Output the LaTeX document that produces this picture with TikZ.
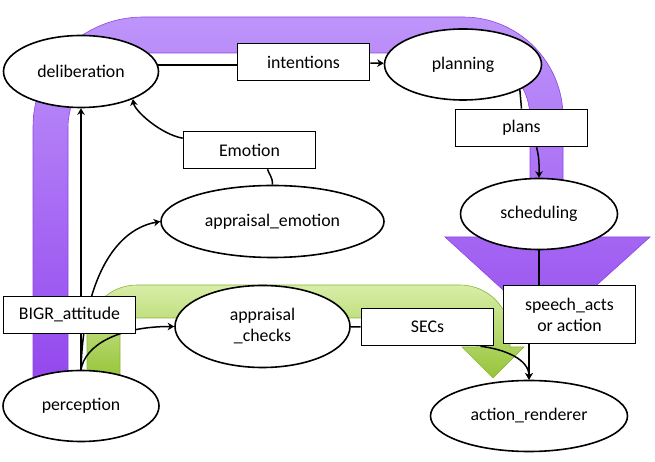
\documentclass[tikz,border=0pt]{standalone}
\usepackage{fontspec}
\setmainfont{Carlito}
\usepackage{tikz}
\usetikzlibrary{arrows.meta,shapes.geometric}

\begin{document}
\begin{tikzpicture}[x=1pt,y=1pt,>={Stealth[length=6.5pt,width=7.5pt,inset=2pt]},
  every node/.style={font=\fontsize{17.8}{21}\selectfont},
  stage/.style={ellipse,draw,fill=white,line width=1.6pt,inner sep=0pt},
  msg/.style={rectangle,draw,fill=white,line width=1.6pt,inner sep=0pt,
    minimum width=132pt,minimum height=37pt,align=center},
  link/.style={line width=1.5pt},
  purpleband/.style={top color={rgb,255:red,190;green,148;blue,250},
    bottom color={rgb,255:red,148;green,72;blue,238},
    draw={rgb,255:red,140;green,70;blue,225},line width=0.6pt},
  greenband/.style={top color={rgb,255:red,216;green,238;blue,168},
    bottom color={rgb,255:red,150;green,196;blue,56},
    draw={rgb,255:red,140;green,180;blue,58},line width=0.6pt}]
  \useasboundingbox (0,0) rectangle (655,462);
  % big arrows behind the graph
  \path[purpleband] (33,84) -- (33,335) arc[start angle=180,end angle=90,radius=110]
    -- (463,445) arc[start angle=90,end angle=0,radius=100]
    -- (563,225) -- (650,225) -- (547,132) -- (445,225) -- (530,225)
    -- (530,344) arc[start angle=0,end angle=90,radius=65]
    -- (143,409) arc[start angle=90,end angle=180,radius=75] -- (68,84) -- cycle;
  \path[greenband] (87,84) -- (87,127) arc[start angle=180,end angle=90,radius=50]
    -- (460,177) arc[start angle=90,end angle=0,radius=50]
    -- (510,115) -- (524,115) -- (493,84) -- (462,115) -- (477,115)
    -- (477,127) arc[start angle=0,end angle=90,radius=17]
    -- (137,144) arc[start angle=90,end angle=180,radius=17] -- (120,84) -- cycle;
  % processes
  \node[stage,minimum width=155pt,minimum height=72pt] (deliberation) at (81,390.5) {deliberation};
  \node[stage,minimum width=157pt,minimum height=71pt] (planning) at (463,397.5) {planning};
  \node[stage,minimum width=157pt,minimum height=71pt] (scheduling) at (539,248) {scheduling};
  \node[stage,minimum width=223pt,minimum height=72pt] (appemotion) at (272.5,240.5) {appraisal\_emotion};
  \node[stage,minimum width=175pt,minimum height=82pt,align=center] (checks) at (262.5,135.5) {appraisal\\\_checks};
  \node[stage,minimum width=156pt,minimum height=71pt] (perception) at (81,56) {perception};
  \node[stage,minimum width=197pt,minimum height=71pt] (renderer) at (529,46) {action\_renderer};
  % data
  \node[msg] (intentions) at (303.5,400) {intentions};
  \node[msg] (plans) at (521.5,334) {plans};
  \node[msg] (emotion) at (249.5,312) {Emotion};
  \node[msg] (secs) at (427.5,135) {SECs};
  \node[msg,minimum height=58pt] (speech) at (569.5,147.5) {speech\_acts\\or action};
  % links
  \draw[link,->] (perception) -- (deliberation);
  \draw[link,->] (perception.north) .. controls +(2,80) and +(-50,-9) .. (appemotion.west);
  \draw[link,->] (perception.north) .. controls +(4,25) and +(-55,0) .. (checks.west);
  \draw[link] (checks) -- (secs);
  \draw[link,->] (secs.-20) .. controls +(25,-3) and +(0,20) .. (renderer.north);
  \draw[link] (appemotion.north) .. controls +(0,8) and +(2,-6) .. (emotion.-47);
  \draw[link,->] (emotion.170) .. controls +(-22,4) and +(2,-12) .. (deliberation.-28);
  \draw[link] (deliberation.5) -- (deliberation.5 -| intentions.west);
  \draw[link,->] (intentions) -- (planning);
  \draw[link] (planning.-24) -- (plans.north);
  \draw[link,->] (plans.-52) .. controls +(3,-12) and +(0,12) .. (scheduling.north);
  \draw[link] (scheduling.south) -- (scheduling.south |- speech.north);
  \draw[link,->] (speech.south -| renderer.north) -- (renderer.north);
  \node[msg] (bigr) at (69.5,147) {BIGR\_attitude};
\end{tikzpicture}
\end{document}
